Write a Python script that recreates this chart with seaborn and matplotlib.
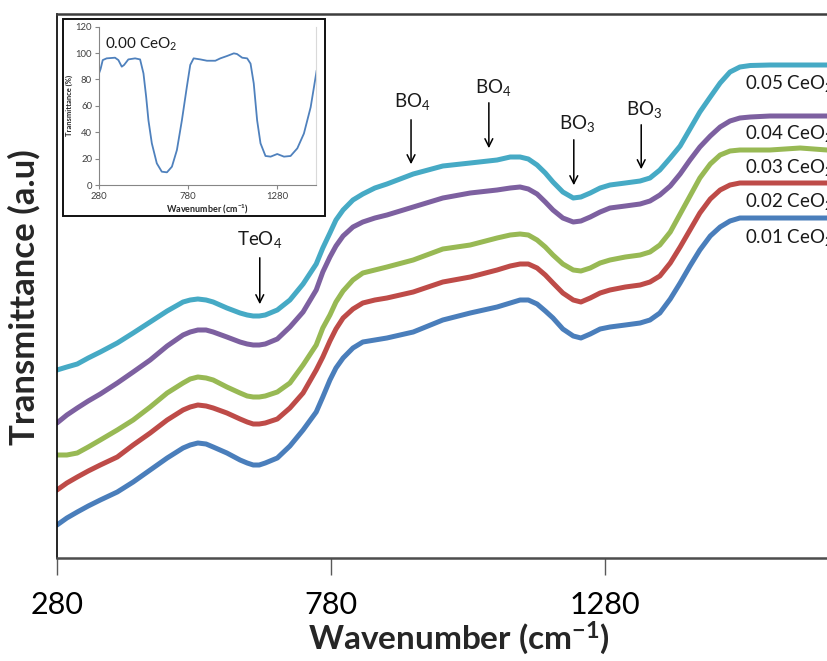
import matplotlib
matplotlib.use("Agg")
import matplotlib.pyplot as plt
import seaborn as sns
import pandas as pd
from matplotlib.patches import Rectangle

# ---------------- data ----------------
wavenumber = [280, 298, 317, 337, 359, 390, 419, 450, 481, 510,
              523, 537, 552, 565, 590, 614, 627, 638, 649, 660,
              682, 705, 729, 753, 765, 778, 789, 802, 820, 838,
              860, 882, 930, 984, 1034, 1083, 1107, 1125, 1140, 1156,
              1171, 1185, 1203, 1222, 1236, 1253, 1271, 1289, 1317, 1344,
              1362, 1380, 1399, 1417, 1435, 1453, 1472, 1490, 1508, 1526,
              1545, 1581, 1636, 1685]

t_001 = [3.3, 4.0, 4.6, 5.2, 5.8, 6.6, 7.6, 8.8, 10.0, 11.0,
         11.3, 11.5, 11.4, 11.1, 10.5, 9.8, 9.5, 9.3, 9.3, 9.5,
         10.0, 11.2, 12.8, 14.6, 16.1, 17.8, 19.0, 20.0, 21.0, 21.6,
         21.8, 22.0, 22.6, 23.8, 24.5, 25.1, 25.5, 25.8, 25.8, 25.4,
         24.7, 24.0, 22.9, 22.2, 22.0, 22.4, 22.9, 23.1, 23.3, 23.5,
         23.8, 24.5, 25.9, 27.5, 29.2, 30.8, 32.2, 33.1, 33.7, 34.0,
         34.0, 34.0, 34.0, 34.0]
t_002 = [6.8, 7.5, 8.1, 8.7, 9.3, 10.1, 11.3, 12.5, 13.8, 14.8,
         15.1, 15.3, 15.2, 15.0, 14.5, 13.9, 13.6, 13.4, 13.4, 13.5,
         13.9, 15.0, 16.5, 18.8, 20.1, 21.7, 22.9, 24.0, 24.9, 25.5,
         25.8, 26.0, 26.6, 27.6, 28.1, 28.8, 29.2, 29.4, 29.4, 29.0,
         28.3, 27.5, 26.5, 25.8, 25.6, 26.0, 26.5, 26.8, 27.1, 27.3,
         27.6, 28.2, 29.5, 31.1, 32.8, 34.5, 35.9, 36.8, 37.3, 37.5,
         37.5, 37.5, 37.5, 37.5]
t_003 = [10.3, 10.3, 10.5, 11.1, 11.8, 12.8, 13.8, 15.1, 16.5, 17.5,
         17.9, 18.1, 18.0, 17.8, 17.1, 16.5, 16.2, 16.1, 16.1, 16.2,
         16.6, 17.5, 19.3, 21.3, 23.0, 24.3, 25.6, 26.7, 27.8, 28.5,
         28.8, 29.1, 29.8, 30.9, 31.3, 32.0, 32.3, 32.4, 32.3, 31.8,
         31.1, 30.3, 29.4, 28.8, 28.7, 29.0, 29.5, 29.8, 30.1, 30.3,
         30.6, 31.3, 32.6, 34.4, 36.2, 38.0, 39.4, 40.3, 40.7, 40.8,
         40.8, 40.8, 41.0, 40.8]
t_004 = [13.5, 14.3, 15.0, 15.7, 16.4, 17.5, 18.6, 19.8, 21.2, 22.3,
         22.6, 22.8, 22.8, 22.6, 22.1, 21.6, 21.4, 21.3, 21.3, 21.4,
         21.9, 23.1, 24.6, 26.8, 28.6, 30.1, 31.2, 32.2, 33.1, 33.6,
         34.0, 34.3, 35.1, 36.0, 36.5, 36.8, 37.0, 37.1, 36.9, 36.4,
         35.6, 34.8, 34.0, 33.6, 33.7, 34.1, 34.6, 35.0, 35.2, 35.4,
         35.7, 36.3, 37.2, 38.4, 39.8, 41.1, 42.2, 43.1, 43.7, 44.0,
         44.1, 44.2, 44.2, 44.2]
t_005 = [18.8, 19.1, 19.4, 20.0, 20.6, 21.5, 22.5, 23.6, 24.7, 25.6,
         25.8, 25.9, 25.8, 25.6, 25.0, 24.5, 24.3, 24.2, 24.2, 24.3,
         24.8, 25.8, 27.4, 29.4, 31.0, 32.5, 33.8, 34.8, 35.8, 36.4,
         37.0, 37.4, 38.4, 39.2, 39.5, 39.8, 40.1, 40.1, 39.9, 39.3,
         38.5, 37.6, 36.6, 36.0, 36.1, 36.5, 37.0, 37.3, 37.5, 37.7,
         38.0, 38.8, 40.0, 41.2, 42.9, 44.6, 46.1, 47.5, 48.6, 49.1,
         49.25, 49.3, 49.3, 49.3]

series_names = ["0.01 CeO$_2$", "0.02 CeO$_2$", "0.03 CeO$_2$", "0.04 CeO$_2$", "0.05 CeO$_2$"]
series_values = [t_001, t_002, t_003, t_004, t_005]
series_colors = ["#4A7EBB", "#BE4B48", "#98B954", "#7D60A0", "#46AAC5"]

band_labels = ["TeO$_4$", "BO$_4$", "BO$_4$", "BO$_3$", "BO$_3$"]

inset_wavenumber = [280, 289, 301, 323, 370, 389, 408, 421, 445, 483, 511, 530, 545, 558,
                    577, 605, 633, 662, 690, 718, 746, 774, 793, 812, 850, 887, 934, 962,
                    1000, 1038, 1056, 1085, 1113, 1132, 1150, 1169, 1188, 1216, 1245,
                    1282, 1320, 1357, 1395, 1432, 1470, 1504]
inset_transmittance = [84.6, 88.0, 94.7, 96.0, 96.5, 94.7, 89.7, 91.0, 95.2, 96.0, 95.2,
                       84.6, 67.0, 49.0, 31.6, 16.4, 10.1, 9.6, 13.9, 26.5, 49.0, 74.5,
                       91.0, 96.0, 95.2, 94.2, 94.2, 96.0, 97.8, 99.8, 99.3, 96.5, 96.0,
                       92.0, 77.0, 49.0, 31.6, 22.0, 21.5, 23.5, 21.5, 22.0, 27.8, 39.0,
                       59.0, 87.0]

# ---------------- style ----------------
sns.set_theme(style="white")
plt.rcParams["font.family"] = ["Lato", "DejaVu Sans"]
plt.rcParams["mathtext.fontset"] = "custom"
plt.rcParams["mathtext.rm"] = "Lato"
plt.rcParams["mathtext.bf"] = "Lato:bold"
plt.rcParams["mathtext.it"] = "Lato:italic"
plt.rcParams["mathtext.default"] = "regular"

W, H = 827, 661
fig = plt.figure(figsize=(W / 100, H / 100), dpi=100)
fig.patch.set_facecolor("white")

# ---------------- main axes ----------------
ax = fig.add_axes([57 / W, 1 - 558 / H, 1 - 57 / W, (558 - 13.5) / H])

rows = []
for name, vals in zip(series_names, series_values):
    for w, v in zip(wavenumber, vals):
        rows.append({"Wavenumber": w, "T": v, "series": name})
df = pd.DataFrame(rows)

sns.lineplot(data=df, x="Wavenumber", y="T", hue="series",
             palette=dict(zip(series_names, series_colors)),
             linewidth=3.6, legend=False, estimator=None, sort=False, ax=ax,
             solid_capstyle="round", solid_joinstyle="round")

ax.set_xlim(280, 1685)
ax.set_ylim(0, 54.45)
ax.set_xticks([280, 780, 1280])
ax.set_xticklabels(["280", "780", "1280"])
ax.set_yticks([])
ax.tick_params(axis="x", direction="out", length=12, width=1.0, color="#595959",
               labelsize=22, pad=12, labelcolor="black", bottom=True)
ax.spines["right"].set_visible(False)
ax.spines["left"].set_color("black")
ax.spines["left"].set_linewidth(1.2)
ax.spines["bottom"].set_color("#4d4d4d")
ax.spines["bottom"].set_linewidth(1.8)
ax.spines["top"].set_color("#3d3d3d")
ax.spines["top"].set_linewidth(1.8)

ax.set_xlabel("Wavenumber (cm$^{\\mathbf{-1}}$)", fontsize=24, fontweight="bold", labelpad=0)
ax.xaxis.label.set_x((459 - 57) / (W - 57))
ax.set_ylabel("Transmittance (a.u)", fontsize=25, fontweight="bold", labelpad=12)
ax.yaxis.label.set_y((558 - 297) / (558 - 13.5))

# series labels at the right
label_pos_y = [32.0, 35.6, 39.0, 42.5, 47.4]
for name, yy in zip(series_names, label_pos_y):
    ax.text(1535, yy, name, fontsize=13.5, ha="left", va="center", color="#1a1a1a")

# band arrows
arrow_x = [650, 926, 1068, 1223, 1346]
arrow_y0 = [30.3, 44.1, 45.8, 42.1, 43.6]
arrow_y1 = [25.1, 39.1, 40.7, 37.0, 38.6]
text_x = [649, 928, 1076, 1229, 1351]
text_y = [31.9, 45.6, 47.0, 43.5, 44.9]
for lab, xa, y0, y1, xt, yt in zip(band_labels, arrow_x, arrow_y0, arrow_y1, text_x, text_y):
    ax.annotate("", xy=(xa, y1), xytext=(xa, y0),
                arrowprops=dict(arrowstyle="->", color="black", lw=1.1, mutation_scale=14))
    ax.text(xt, yt, lab, fontsize=13.5, ha="center", va="center", color="#1a1a1a")

# ---------------- inset ----------------
frame = Rectangle((63 / W, 1 - 216 / H), 262 / W, 197 / H, transform=fig.transFigure,
                  facecolor="white", edgecolor="#111111", linewidth=1.4, zorder=2)
fig.patches.append(frame)

ins = fig.add_axes([99 / W, 1 - 185 / H, 217 / W, 158.3 / H])
ins.set_zorder(3)
sns.lineplot(x=inset_wavenumber, y=inset_transmittance, color="#4F81BD", linewidth=1.3,
             ax=ins, estimator=None, sort=False)
ins.set_xlim(280, 1500)
ins.set_ylim(0, 120)
ins.set_xticks([280, 780, 1280])
ins.set_yticks([0, 20, 40, 60, 80, 100, 120])
ins.tick_params(axis="both", direction="out", length=3, width=0.8, color="#868686",
                labelsize=6.8, labelcolor="#404040", pad=2, left=True, bottom=True)
ins.spines["top"].set_visible(False)
ins.spines["left"].set_color("#868686")
ins.spines["bottom"].set_color("#868686")
ins.spines["right"].set_color("#d9d9d9")
for s in ["left", "bottom", "right"]:
    ins.spines[s].set_linewidth(0.8)
ins.set_xlabel("Wavenumber (cm$^{\\mathbf{-1}}$)", fontsize=6.5, fontweight="bold",
               labelpad=1, color="#262626")
ins.set_ylabel("Transmittance (%)", fontsize=5.5, fontweight="bold", labelpad=2,
               color="#262626")
ins.text(314, 106.9, "0.00 CeO$_2$", fontsize=11, ha="left", va="center", color="#1a1a1a")

fig.savefig("out.png", dpi=100)
